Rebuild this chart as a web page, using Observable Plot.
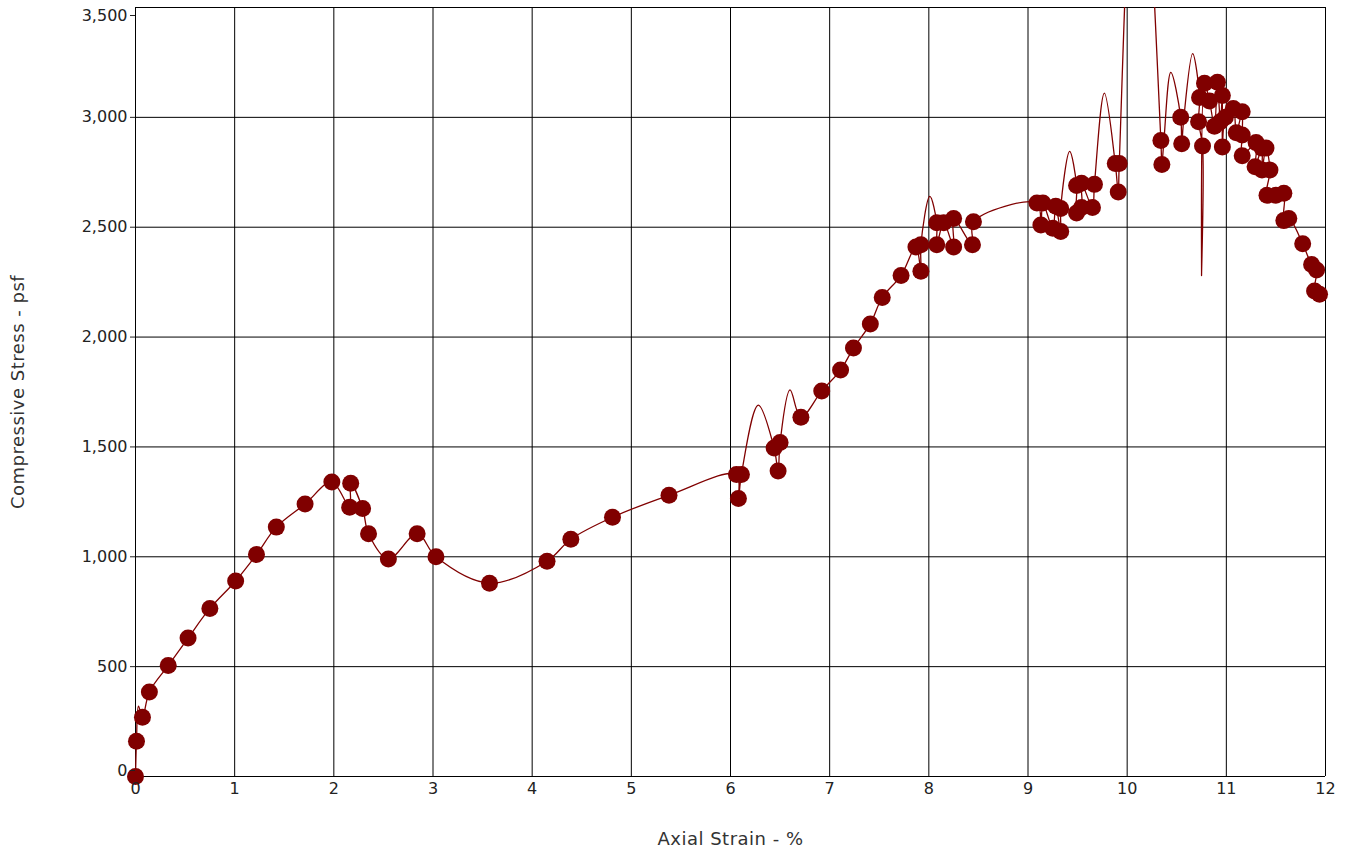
<!DOCTYPE html>
<html>
<head>
<meta charset="utf-8">
<script src="https://cdn.jsdelivr.net/npm/d3@7"></script>
<script src="https://cdn.jsdelivr.net/npm/@observablehq/plot@0.6"></script>
<style>
  html, body { margin: 0; padding: 0; background: #fff; }
  #chart { width: 1346px; height: 854px; }
</style>
</head>
<body>
<div id="chart"></div>
<script>
// Marker readings (axial strain %, compressive stress psf)
const pointStrain = [0,0.01,0.07,0.14,0.33,0.53,0.75,1.01,1.22,1.42,1.71,1.98,2.16,2.17,2.29,2.35,2.55,2.84,3.03,3.57,4.15,4.39,4.81,5.38,
  6.06,6.08,6.11,6.44,6.48,6.50,6.71,6.92,7.11,7.24,7.41,7.53,7.72,7.87,7.92,7.92,8.08,8.08,8.15,8.25,8.25,8.44,8.45,
  9.09,9.13,9.15,9.25,9.28,9.33,9.33,9.49,9.49,9.54,9.54,9.65,9.67,9.88,9.91,9.92,
  10.34,10.35,10.54,10.55,10.72,10.73,10.76,10.78,10.83,10.88,10.91,10.94,10.96,10.96,10.99,
  11.07,11.10,11.16,11.16,11.16,11.30,11.36,11.40,11.29,11.36,11.44,11.41,11.50,11.58,11.58,11.63,11.77,11.86,11.91,11.89,11.94];
const pointStress = [0,160,270,385,505,630,765,890,1010,1135,1240,1340,1225,1335,1220,1105,990,1105,1000,880,980,1080,1180,1280,
  1375,1265,1375,1495,1390,1520,1635,1755,1850,1950,2060,2180,2280,2410,2300,2420,2520,2420,2520,2410,2540,2420,2525,
  2610,2510,2610,2495,2595,2480,2585,2690,2565,2590,2700,2590,2695,2790,2660,2790,
  2895,2785,3000,2880,2980,3090,2870,3155,3075,2960,3160,2980,3100,2865,3000,
  3040,2930,3025,2920,2825,2885,2860,2860,2775,2760,2760,2645,2645,2655,2530,2540,2425,2330,2305,2210,2195];

// Vertices of the drawn trace, in drawing order (including its swings)
const traceStrain = [0,0.01,0.03,0.07,0.14,0.33,0.53,0.75,1.01,1.22,1.42,1.71,1.98,2.16,2.17,2.29,2.35,2.55,2.84,3.03,3.57,4.15,4.39,4.81,5.38,
  6.06,6.08,6.11,6.28,6.44,6.48,6.50,6.60,6.71,6.92,7.11,7.24,7.41,7.53,7.72,7.87,7.92,7.92,8.01,
  8.08,8.08,8.15,8.25,8.25,8.44,8.45,9.09,9.13,9.15,9.25,9.28,9.33,9.33,9.42,
  9.49,9.49,9.54,9.54,9.65,9.67,9.77,9.88,9.91,9.92,10.11,10.34,10.35,10.37,10.44,10.54,10.55,10.57,10.66,
  10.73,10.72,10.76,10.75,10.78,10.83,10.88,10.91,10.94,10.96,10.96,10.99,11.07,11.10,11.16,11.16,11.16,
  11.30,11.29,11.36,11.36,11.40,11.44,11.41,11.50,11.58,11.58,11.63,11.77,11.86,11.91,11.89,11.94];
const traceStress = [0,160,320,270,385,505,630,765,890,1010,1135,1240,1340,1225,1335,1220,1105,990,1105,1000,880,980,1080,1180,1280,
  1375,1265,1375,1690,1495,1390,1520,1760,1635,1755,1850,1950,2060,2180,2280,2410,2300,2420,2640,
  2520,2420,2520,2410,2540,2420,2525,2610,2510,2610,2495,2595,2480,2585,2845,
  2690,2565,2590,2700,2590,2695,3110,2790,2660,2790,4600,2895,2785,2890,3205,3000,2880,2990,3290,
  3090,2980,2870,2280,3155,3075,2960,3160,2980,3100,2865,3000,3040,2930,3025,2920,2825,
  2885,2775,2860,2760,2860,2760,2645,2645,2655,2530,2540,2425,2330,2305,2210,2195];

const xTicks = [0,1,2,3,4,5,6,7,8,9,10,11,12];
const yTicks = [0,500,1000,1500,2000,2500,3000,3500];
const xTitle = "Axial Strain - %";
const yTitle = "Compressive Stress - psf";

const points = pointStrain.map((s, i) => ({strain: s, stress: pointStress[i]}));
const trace = traceStrain.map((s, i) => ({strain: s, stress: traceStress[i]}));

const color = "#800000";
const fmt = d3.format(",");
const tickFont = "DejaVu Sans, Verdana, sans-serif";

const chart = Plot.plot({
  width: 1346,
  height: 854,
  marginLeft: 135,
  marginRight: 21,
  marginTop: 7,
  marginBottom: 78,
  style: {background: "#fff", fontFamily: tickFont, fontSize: "16px", color: "#222"},
  x: {domain: [0, 12]},
  y: {domain: [0, 3500]},
  marks: [
    Plot.gridX(xTicks, {stroke: "#000", strokeOpacity: 1, strokeWidth: 1}),
    Plot.gridY(yTicks, {stroke: "#000", strokeOpacity: 1, strokeWidth: 1}),
    Plot.line(trace, {x: "strain", y: "stress", stroke: color, strokeWidth: 1.3, curve: "catmull-rom", clip: true}),
    Plot.dot(points, {x: "strain", y: "stress", r: 8.5, fill: color, stroke: "none"}),
    Plot.axisX(xTicks, {tickSize: 0, tickPadding: 6, label: null, fontSize: 16, fill: "#222"}),
    Plot.axisY(yTicks.filter(t => t > 0 && t < 3500), {tickSize: 5, tickPadding: 3, tickFormat: fmt, label: null, fontSize: 16, fill: "#222"}),
    Plot.axisY([0], {tickSize: 5, tickPadding: 3, tickFormat: fmt, label: null, fontSize: 16, fill: "#222", dy: -6}),
    Plot.axisY([3500], {tickSize: 5, tickPadding: 3, tickFormat: fmt, label: null, fontSize: 16, fill: "#222", dy: 8}),
    Plot.text([xTitle], {frameAnchor: "bottom", textAnchor: "middle", dy: 68, fontSize: 18, fontFamily: tickFont, fill: "#333"}),
    Plot.text([yTitle], {frameAnchor: "left", textAnchor: "middle", dx: -117, rotate: -90, fontSize: 18, fontFamily: tickFont, fill: "#333"})
  ]
});
document.getElementById("chart").appendChild(chart);
d3.select(chart).selectAll("g[aria-label='text'] text").style("letter-spacing", "0.5px");
</script>
</body>
</html>
